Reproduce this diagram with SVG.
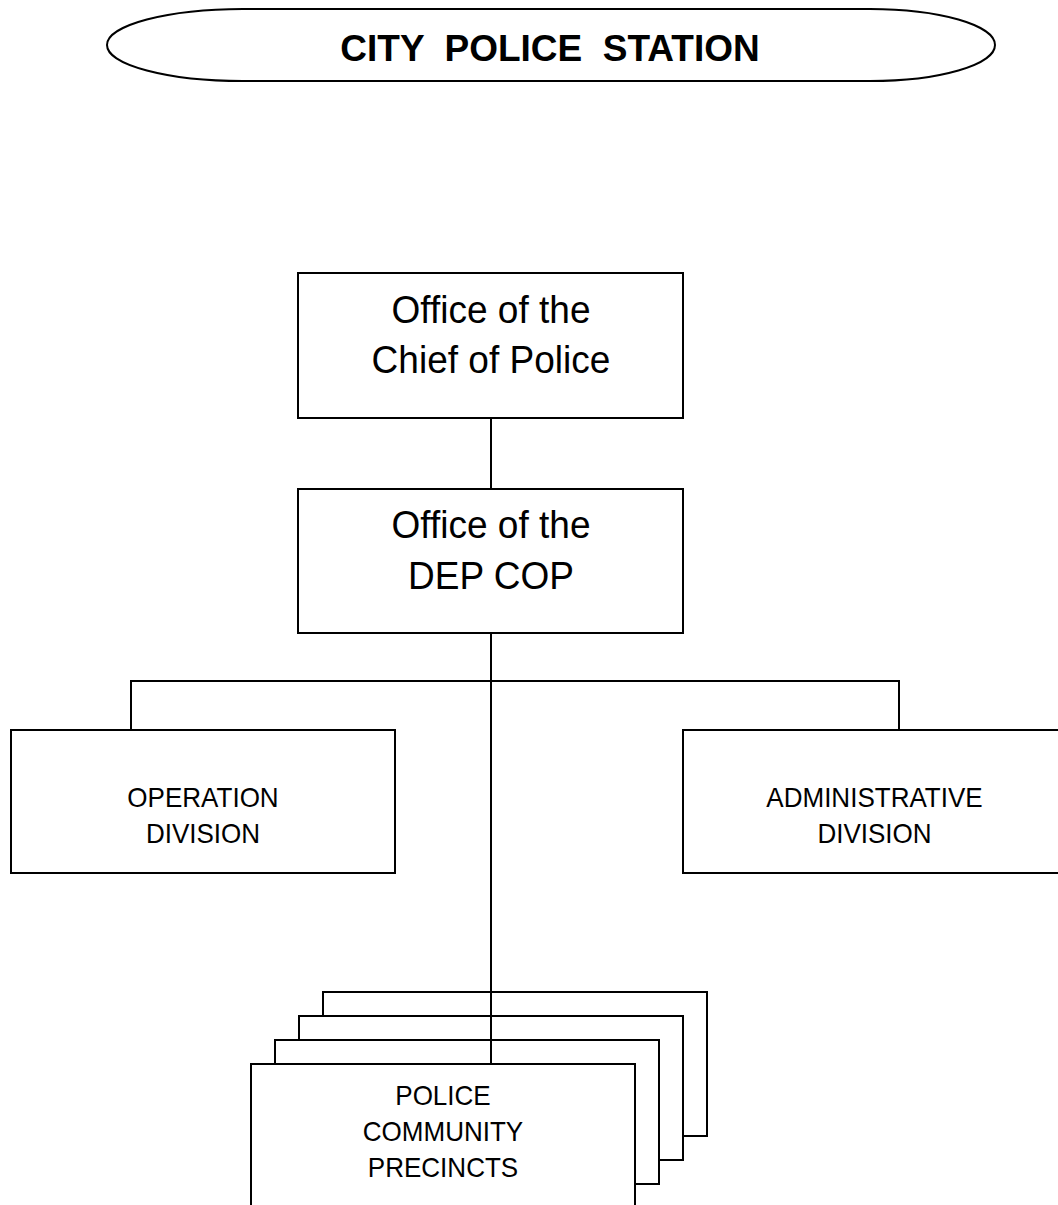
<svg xmlns="http://www.w3.org/2000/svg" width="1058" height="1205" viewBox="0 0 1058 1205">
<style>
.box{fill:#fff;stroke:#000;stroke-width:2}
.ln{fill:none;stroke:#000;stroke-width:2}
.big{font-family:"Liberation Sans",Arial,sans-serif;font-size:39px;fill:#000;text-anchor:middle}
.mid{font-family:"Liberation Sans",Arial,sans-serif;font-size:28px;fill:#000;text-anchor:middle}
.title{font-family:"Liberation Sans",Arial,sans-serif;font-size:37px;font-weight:bold;fill:#000;text-anchor:middle}
</style>
<rect width="1058" height="1205" fill="#fff"/>
<g id="title">
<path class="box" d="M243,9 L870,9 A125,36 0 0 1 995,45 A125,36 0 0 1 870,81 L243,81 A136,36 0 0 1 107,45 A136,36 0 0 1 243,9 Z"/>
<text class="title" x="550" y="61" xml:space="preserve">CITY  POLICE  STATION</text>
</g>
<g id="precincts">
<rect class="box" x="323" y="992" width="384" height="144"/>
<rect class="box" x="299" y="1016" width="384" height="144"/>
<rect class="box" x="275" y="1040" width="384" height="144"/>
</g>
<g id="connectors">
<line class="ln" x1="491" y1="418" x2="491" y2="489"/>
<line class="ln" x1="491" y1="633" x2="491" y2="1064"/>
<polyline class="ln" points="131,730 131,681 899,681 899,730"/>
</g>
<g id="chief">
<rect class="box" x="298" y="273" width="385" height="145"/>
<g transform="translate(491,0) scale(0.95,1)">
<text class="big" x="0" y="323">Office of the</text>
<text class="big" x="0" y="373">Chief of Police</text>
</g>
</g>
<g id="depcop">
<rect class="box" x="298" y="489" width="385" height="144"/>
<g transform="translate(491,0) scale(0.95,1)">
<text class="big" x="0" y="538">Office of the</text>
<text class="big" x="0" y="589">DEP COP</text>
</g>
</g>
<g id="operation">
<rect class="box" x="11" y="730" width="384" height="143"/>
<g transform="translate(203,0) scale(0.93,1)">
<text class="mid" x="0" y="807">OPERATION</text>
<text class="mid" x="0" y="843">DIVISION</text>
</g>
</g>
<g id="administrative">
<rect class="box" x="683" y="730" width="384" height="143"/>
<g transform="translate(874.5,0) scale(0.93,1)">
<text class="mid" x="0" y="807">ADMINISTRATIVE</text>
<text class="mid" x="0" y="843">DIVISION</text>
</g>
</g>
<g id="precinct-front">
<rect class="box" x="251" y="1064" width="384" height="144"/>
<g transform="translate(443,0) scale(0.93,1)">
<text class="mid" x="0" y="1105">POLICE</text>
<text class="mid" x="0" y="1141">COMMUNITY</text>
<text class="mid" x="0" y="1177">PRECINCTS</text>
</g>
</g>
</svg>
